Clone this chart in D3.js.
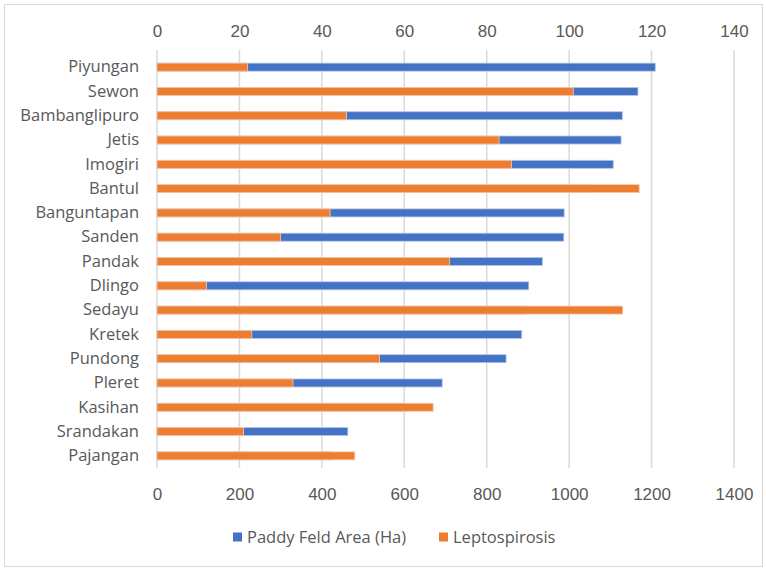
<!DOCTYPE html>
<html>
<head>
<meta charset="utf-8">
<script src="https://cdn.jsdelivr.net/npm/d3@7"></script>
<style>
  html, body { margin: 0; padding: 0; background: #fff; }
  svg { display: block; }
  text { font-family: "Liberation Sans", Arial, sans-serif; fill: #595959; }
  .cat text, .legend text { font-family: "Open Sans", "Liberation Sans", sans-serif; }
</style>
</head>
<body>
<svg id="chart" width="766" height="569"></svg>
<script>
// Sub-districts of Bantul, ordered top to bottom
const districts = ["Piyungan", "Sewon", "Bambanglipuro", "Jetis", "Imogiri", "Bantul",
  "Banguntapan", "Sanden", "Pandak", "Dlingo", "Sedayu", "Kretek", "Pundong",
  "Pleret", "Kasihan", "Srandakan", "Pajangan"];
// Paddy field area (Ha), bottom axis
const paddyArea = [1209, 1167, 1129, 1126, 1107, 1050, 988, 987, 935, 902, 895, 885, 847,
  692, 600, 463, 420];
// Leptospirosis cases, top axis
const leptospirosis = [22, 101, 46, 83, 86, 117, 42, 30, 71, 12, 113, 23, 54, 33, 67, 21, 48];

const areaTicks = [0, 200, 400, 600, 800, 1000, 1200, 1400];
const caseTicks = [0, 20, 40, 60, 80, 100, 120, 140];

const seriesNames = ["Paddy Feld Area (Ha)", "Leptospirosis"];
const colors = ["#4472C4", "#ED7D31"];

const svg = d3.select("#chart");

// Chart frame
svg.append("rect")
  .attr("x", 4.5).attr("y", 4.5).attr("width", 758).attr("height", 562)
  .attr("fill", "#fff").attr("stroke", "#D9D9D9").attr("stroke-width", 1);

const xArea = d3.scaleLinear().domain([0, 1400]).range([157, 734]);
const xCases = d3.scaleLinear().domain([0, 140]).range([157, 734]);
const y = d3.scaleBand().domain(districts).range([55, 468]).paddingInner(0.67).paddingOuter(0.335);

// Gridlines
svg.append("g").selectAll("line").data(areaTicks).join("line")
  .attr("x1", d => xArea(d)).attr("x2", d => xArea(d))
  .attr("y1", 50).attr("y2", 468)
  .attr("stroke", "#D9D9D9").attr("stroke-width", 1.5);

function styleTicks(sel) {
  sel.select(".domain").remove();
  sel.selectAll("text")
    .attr("dy", "0.35em")
    .style("font-size", "17px")
    .attr("fill", "#595959");
}

// Top axis (cases)
svg.append("g").attr("transform", "translate(0,31)")
  .call(d3.axisTop(xCases).tickValues(caseTicks).tickFormat(d3.format("d")).tickSize(0).tickPadding(0))
  .call(styleTicks);

// Bottom axis (area)
svg.append("g").attr("transform", "translate(0,494)")
  .call(d3.axisBottom(xArea).tickValues(areaTicks).tickFormat(d3.format("d")).tickSize(0).tickPadding(0))
  .call(styleTicks);

// Category labels
const leftAxis = svg.append("g").attr("class", "cat").attr("transform", "translate(139,0)")
  .call(d3.axisLeft(y).tickSize(0).tickPadding(0));
leftAxis.select(".domain").remove();
leftAxis.selectAll("text").style("font-size", "16.5px").attr("fill", "#595959");

const bh = y.bandwidth();

// Paddy area bars (behind)
svg.append("g").selectAll("rect").data(districts).join("rect")
  .attr("x", xArea(0))
  .attr("y", d => y(d))
  .attr("width", (d, i) => xArea(paddyArea[i]) - xArea(0))
  .attr("height", bh)
  .attr("fill", colors[0])
  .attr("stroke", "#B4C7E7").attr("stroke-width", 0.8);

// Leptospirosis bars (front)
svg.append("g").selectAll("rect").data(districts).join("rect")
  .attr("x", xCases(0))
  .attr("y", d => y(d))
  .attr("width", (d, i) => xCases(leptospirosis[i]) - xCases(0))
  .attr("height", bh)
  .attr("fill", colors[1])
  .attr("stroke", "#F8CBAD").attr("stroke-width", 0.8);

// Legend
const legendX = [233, 439];
seriesNames.forEach((name, i) => {
  const g = svg.append("g").attr("class", "legend").attr("transform", `translate(${legendX[i]},537)`);
  g.append("rect").attr("x", 0).attr("y", -4.5).attr("width", 9).attr("height", 9).attr("fill", colors[i]);
  g.append("text").attr("x", 14).attr("y", 0).attr("dy", "0.35em")
    .style("font-size", "16.5px")
    .text(name);
});
</script>
</body>
</html>
